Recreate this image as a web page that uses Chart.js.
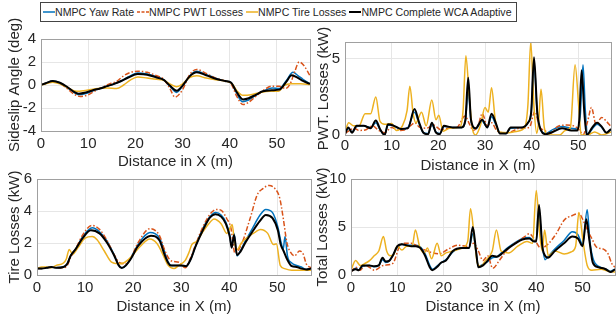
<!DOCTYPE html>
<html>
<head>
<meta charset="utf-8">
<script src="https://cdn.jsdelivr.net/npm/chart.js@4.4.1/dist/chart.umd.min.js"></script>
<style>
  body { margin: 0; background: #fff; width: 616px; height: 320px; position: relative; overflow: hidden; }
  canvas { position: absolute; }
  #legend {
    position: absolute; left: 40px; top: 2px; width: 473px; height: 18px;
    border: 1px solid #444; background: #fff; z-index: 2;
    display: flex; align-items: center; padding-left: 2px;
    font: 10.6px 'Liberation Sans', Arial, sans-serif; color: #262626; white-space: nowrap;
  }
  #legend .item { display: flex; align-items: center; margin-right: 3px; }
</style>
</head>
<body>
<div id="legend"></div>
<canvas id="slip" width="312" height="175" style="left:0px;top:0px"></canvas>
<canvas id="pwt" width="304" height="150" style="left:312px;top:25px"></canvas>
<canvas id="tire" width="312" height="155" style="left:0px;top:165px"></canvas>
<canvas id="total" width="304" height="155" style="left:312px;top:165px"></canvas>
<script>
'use strict'
// four controllers, same order everywhere
const seriesNames = ['NMPC Yaw Rate', 'NMPC PWT Losses', 'NMPC Tire Losses', 'NMPC Complete WCA Adaptive'];
const seriesColors = ['#0072BD', '#D95319', '#EDB120', '#000000'];
const xLabel = 'Distance in X (m)';
const xMax = 57;

// sideslip angle (deg) , points are [x in m, value]
const slipYaw = [[0,0],[1,0.15],[2.5,0.35],[4,0.2],[5.5,-0.2],[7,-0.65],[8,-0.85],[9.5,-0.75],[11,-0.5],[12.5,-0.3],[14,-0.1],[15.5,0.1],[17,0.35],[18.5,0.7],[20.5,1.05],[22.5,0.95],[24.5,0.7],[26,0.45],[27.3,-0.1],[28.7,-0.65],[30,-0.1],[31.5,0.8],[33,1.2],[35,0.9],[37,0.6],[39,0.35],[40.3,0.2],[41.3,-0.6],[42.7,-1.45],[44,-1.3],[45.5,-0.9],[47,-0.55],[49,-0.25],[50.5,-0.3],[52,0.4],[53.4,1.1],[54.5,0.8],[55.5,0.5],[57,0.1]];
const slipPwt = [[0,0],[1,0.15],[2.5,0.3],[4,0.15],[5.5,-0.3],[7,-0.8],[8.3,-1.0],[10,-0.85],[11.5,-0.5],[13,-0.2],[14.5,0.1],[16,0.3],[17.5,0.8],[19,1.1],[20.5,1.2],[22.5,1.1],[24.5,0.8],[26,0.5],[27.3,-0.3],[28.4,-1.05],[30,-0.4],[31.5,0.9],[33,1.35],[35,1.0],[37,0.6],[39,0.35],[40.3,0.1],[41.5,-1.0],[42.8,-1.7],[44,-1.5],[45.5,-1.0],[47,-0.5],[49,-0.1],[50.5,-0.1],[51.8,-0.3],[52.8,0.1],[53.8,1.2],[54.7,2.0],[55.7,1.7],[57,0.8]];
const slipTire = [[0,0],[1,0.1],[2.5,0.25],[4,0.1],[5.5,-0.2],[7.5,-0.55],[9,-0.5],[10.5,-0.4],[12,-0.3],[14,-0.25],[16,-0.3],[17.5,0],[19,0.45],[20.5,0.7],[22.5,0.6],[24.5,0.5],[26,0.4],[27.5,0.05],[28.7,-0.15],[30,0.1],[31.5,0.65],[33,0.8],[35,0.6],[37,0.45],[39.5,0.3],[40.5,0.1],[41.5,-0.5],[42.8,-0.9],[44.5,-0.85],[46.5,-0.65],[48.5,-0.55],[50.3,-0.55],[51.5,-0.05],[53,0.1],[55,0.1],[57,0.05]];
const slipWca = [[0,0],[1,0.15],[2.5,0.35],[4,0.2],[5.5,-0.15],[7,-0.6],[8,-0.75],[9.5,-0.65],[11,-0.45],[12.5,-0.3],[14,-0.1],[15.5,0.1],[17,0.35],[18.5,0.65],[20.5,0.95],[22.5,0.9],[24.5,0.65],[26,0.45],[27.3,-0.05],[28.8,-0.5],[30,-0.05],[31.5,0.75],[33,1.1],[35,0.85],[37,0.55],[39,0.35],[40.3,0.2],[41.3,-0.5],[42.8,-1.25],[44,-1.15],[45.5,-0.85],[47,-0.55],[49,-0.45],[50.5,-0.4],[52,0.3],[53.1,0.85],[54.5,0.6],[55.5,0.35],[57,0.1]];

// powertrain losses (kW)
const pwtYaw = [[0,0.1],[0.7,0.45],[1.5,0.2],[2.5,0.55],[4,0.6],[5.5,0.5],[6.6,0.8],[7.5,0.35],[8.5,0.05],[9.2,0.65],[10.5,0.6],[12,0.35],[13.5,0.5],[14.9,1.5],[15.8,0.8],[16.8,0.15],[17.8,0.1],[18.6,0.65],[19.5,0.2],[20.3,0.1],[21.2,0.55],[23,0.5],[25,0.5],[25.8,0.9],[26.4,3.0],[27,0.9],[28,0.4],[29.4,0.9],[30.5,0.5],[31.4,1.2],[32.3,0.7],[33.2,0.15],[34.5,0.1],[35.5,0.45],[38,0.5],[39.2,0.8],[39.9,1.5],[40.5,4.8],[41.2,1.4],[42,0.3],[43,0.1],[44.5,0.35],[46.5,0.55],[48.5,0.45],[49.8,0.4],[50.4,1.2],[51,4.6],[51.5,1.6],[52,0.05],[53,0.4],[54,0.7],[55,0.5],[56,0.15],[57,0.35]];
const pwtPwt = [[0,0.1],[1,0.3],[2,0.45],[3,0.3],[4.5,0.35],[6,0.6],[7,0.35],[8.5,0.15],[10,0.5],[11.5,0.3],[13,0.35],[14,0.6],[15,0.8],[16,0.5],[17.5,0.45],[19,0.65],[20.5,0.35],[22,0.45],[24,0.5],[25.7,1.25],[26.7,0.7],[27.5,0.3],[28.5,0.6],[29.4,1.4],[30.5,0.6],[31.4,0.8],[32.5,0.3],[34,0.15],[35.5,0.2],[37.5,0.45],[39.5,0.5],[40.7,1.55],[41.6,0.6],[43,0.25],[44,0.1],[45.5,0.55],[47.5,0.65],[49,0.6],[50.3,0.3],[51,0],[52,0.9],[52.8,1.8],[53.8,0.7],[55,1.15],[56,0.9],[57,0.55]];
const pwtTire = [[0,0.2],[0.8,0.8],[1.8,0.6],[3,0.6],[4.3,1.4],[5.5,1.4],[6.6,2.5],[7.5,0.9],[8.5,0.7],[10,0.75],[11,0.3],[12.3,0.6],[13.3,1.6],[13.9,3.2],[14.6,1.4],[15.2,0.8],[16.4,1.5],[17.4,0.6],[18.6,2.3],[19.5,1.0],[20.1,1.3],[21,0.25],[22.5,0.45],[24.6,0.5],[25.3,1.6],[25.9,5.2],[26.6,2.6],[27.3,0.4],[28,0],[29,0.6],[30,1.8],[30.7,1.5],[31.4,3.1],[32.2,1.0],[33,0.2],[35,0.15],[37,0.25],[38.5,0.5],[39.2,2.0],[39.8,6.1],[40.5,1.8],[41.1,0.1],[41.5,0.9],[42,3.0],[42.7,0.5],[43.5,0],[46,0],[47.2,0.3],[48.3,0.5],[49.3,4.6],[50.1,1.8],[50.6,0],[52,0],[53.5,0.2],[55,0],[57,0.2]];
const pwtWca = [[0,0.05],[0.7,0.5],[1.5,0.15],[2.5,0.6],[4,0.6],[5.5,0.45],[6.6,0.95],[7.5,0.4],[8.5,0],[9.2,0.7],[10.5,0.6],[12,0.4],[13.5,0.45],[14.9,1.7],[15.8,0.9],[16.8,0.15],[17.8,0.05],[18.6,0.8],[19.5,0.15],[20.3,0.05],[21.2,0.6],[23,0.5],[25,0.5],[25.8,1.0],[26.4,3.75],[27,1.0],[28,0.45],[29.4,1.0],[30.5,0.5],[31.4,1.4],[32.3,0.8],[33.2,0.1],[34.5,0.1],[35.5,0.5],[38,0.5],[39.2,0.8],[39.9,1.5],[40.5,5.1],[41.2,1.5],[42,0.3],[43,0.05],[44.5,0.2],[46.5,0.45],[48.5,0.3],[49.8,0.3],[50.2,1.0],[50.7,4.25],[51.3,1.4],[51.8,0],[53,0.5],[54,0.8],[55,0.55],[56,0.15],[57,0.4]];

// tire losses (kW)
const tireYaw = [[0,0.4],[1,0.4],[2,0.45],[3,0.5],[4,0.45],[5.5,0.5],[6.3,0.7],[7,1.2],[8,1.6],[9.5,2.4],[11.5,2.95],[13,2.7],[14.5,2.15],[16,1.3],[17,0.6],[17.8,0.45],[18.5,0.6],[19.5,1.05],[21,1.9],[23.5,2.65],[25.5,2.3],[26.5,1.5],[27.3,0.8],[28,0.6],[30,0.6],[31,0.55],[32,1.0],[33,1.8],[34.5,2.9],[36,3.65],[37.2,3.9],[38.3,3.75],[39.3,3.3],[40.1,2.5],[40.5,1.8],[41,2.6],[41.6,1.2],[42.3,1.5],[43.3,2.1],[44.8,2.9],[46.3,3.7],[47.6,4.1],[49,3.9],[50.1,3.0],[50.8,2.0],[51.2,1.6],[51.6,2.4],[52.1,1.2],[53,0.75],[54,0.6],[55,0.5],[56,0.35],[57,0.4]];
const tirePwt = [[0,0.4],[1,0.4],[2,0.45],[3,0.5],[4,0.45],[5.5,0.45],[6.3,0.6],[7,1.1],[8,1.6],[9.5,2.5],[11.4,3.1],[13,2.85],[14.5,2.2],[16,1.3],[17.3,0.75],[18.5,0.7],[19.5,1.05],[21,2.0],[23.5,2.9],[25.5,2.45],[26.5,1.6],[27.5,1.0],[28.3,0.85],[29.5,0.8],[30.8,0.45],[32,1.1],[33,1.9],[34.5,3.0],[36,3.8],[37.4,4.1],[38.5,4.0],[39.5,3.5],[40.3,3.0],[41.2,1.35],[42.5,1.9],[44.4,3.6],[45.8,5.0],[47,5.4],[48.3,5.6],[49.5,5.4],[50.5,4.8],[51.2,3.6],[52,2.0],[52.6,1.5],[53.6,1.2],[54.6,1.5],[55.4,1.3],[56,0.7],[57,0.45]];
const tireTire = [[0,0.4],[1,0.5],[2,0.5],[3,0.45],[4,0.6],[5.5,0.75],[6.1,1.0],[6.7,1.6],[7.4,1.3],[8.5,1.7],[10,2.3],[11.5,2.4],[12.5,2.2],[14,1.5],[15.5,0.8],[16.8,0.7],[18,0.75],[19.5,1.1],[21.5,1.8],[23.5,2.25],[25,1.95],[26,1.4],[27.3,0.6],[28.5,0.4],[29.5,0.6],[30.8,0.9],[31.6,1.4],[32.2,1.9],[33.2,2.1],[34.5,2.7],[36,3.3],[36.8,3.5],[38.3,3.2],[39.5,2.6],[40.1,2.9],[40.6,3.15],[41.1,2.0],[41.7,1.6],[42.5,2.0],[44,2.4],[45.5,2.7],[46.5,2.85],[48,2.6],[49.2,1.9],[49.8,1.95],[50.6,0.6],[51.5,0.4],[53,0.3],[55,0.3],[57,0.3]];
const tireWca = [[0,0.4],[1,0.4],[2,0.45],[3,0.5],[4,0.45],[5.5,0.5],[6.3,0.7],[7,1.2],[8,1.6],[9.5,2.3],[11.2,2.8],[13,2.6],[14.5,2.05],[16,1.25],[17,0.6],[17.6,0.43],[18.5,0.6],[19.5,1.0],[21,1.8],[23.7,2.45],[25.5,2.15],[26.5,1.3],[27.3,0.75],[27.8,0.6],[30,0.6],[31,0.55],[32,1.0],[33,1.8],[34.5,2.8],[36,3.6],[37.1,3.8],[38.3,3.65],[39.3,3.2],[40.1,2.4],[40.5,1.7],[41,2.5],[41.6,1.25],[42.3,1.45],[43.3,2.0],[44.8,2.7],[46.3,3.35],[47.6,3.75],[49,3.55],[50.1,2.8],[50.7,1.9],[51.3,1.5],[52,1.0],[53,0.55],[54,0.5],[55,0.4],[56,0.35],[57,0.4]];

// total losses (kW)
const totYaw = [[0,0.4],[1,0.7],[1.7,0.5],[2.5,0.9],[4,1.0],[5,0.85],[6,1.0],[6.8,1.6],[7.5,1.3],[8.3,1.5],[9,2.0],[10,2.9],[11,3.2],[12,3.1],[13,3.1],[14,3.1],[15,2.9],[16,2.2],[17,1.0],[17.6,0.6],[18.5,0.9],[19.5,1.3],[20.5,1.6],[22,2.4],[24,2.8],[25.5,2.8],[26.3,4.3],[27,2.4],[27.5,0.9],[28.5,1.1],[29.5,1.4],[30.5,1.8],[31.5,1.9],[32.5,2.3],[34,2.9],[35.5,3.4],[37,3.8],[38.5,3.9],[39.5,3.6],[40,3.6],[40.5,6.8],[41.3,3.1],[41.9,1.6],[42.5,1.9],[44,2.7],[46,3.6],[47.8,4.5],[49,4.2],[50,3.2],[51,6.8],[51.6,3.4],[52.4,1.5],[53.5,0.9],[55,0.6],[56,0.4],[57,0.6]];
const totPwt = [[0,0.3],[1,0.8],[2,0.5],[3,1.0],[4,0.8],[5,0.5],[7,1.0],[9,1.2],[10.5,3.0],[11.5,3.3],[13,3.3],[15,2.8],[17,2.4],[19,2.2],[21,2.7],[23,3.1],[25,3.0],[26.5,3.3],[27.5,2.5],[28.5,1.5],[29.5,2.0],[30.6,0.7],[32,1.5],[34,2.8],[36,3.5],[37.5,4.0],[38.5,4.3],[39.5,3.8],[41,2.8],[42.5,3.2],[44.3,4.3],[46,5.7],[47.8,6.2],[49.2,6.4],[50.3,5.5],[51.2,4.5],[52,3.8],[53,2.9],[54.5,2.7],[55.5,2.2],[56.3,1.2],[57,0.8]];
const totTire = [[0,0.5],[1,1.5],[2,1.0],[3,1.2],[4,1.5],[5,2.0],[6,2.5],[7,4.0],[7.7,2.5],[8.5,2.0],[9.2,2.1],[10,3.0],[11,2.6],[12,3.0],[13.2,3.0],[13.9,4.7],[14.8,3.0],[15.8,2.3],[16.5,2.8],[17.4,1.7],[18.6,3.3],[19.5,2.0],[20.5,2.3],[22,2.5],[24,2.8],[25.2,3.5],[25.8,6.9],[26.6,4.0],[27.3,1.2],[28,0.9],[29,1.5],[30.5,2.5],[31.4,4.7],[32.4,2.5],[34,2.3],[36,3.0],[38,3.5],[39.2,3.3],[40,8.8],[40.8,4.0],[41.3,2.5],[41.8,4.7],[42.6,2.0],[44,2.5],[46,2.2],[47.5,2.4],[48.5,3.0],[49.2,6.5],[50.1,3.5],[51,1.0],[52,0.5],[54,0.6],[55.5,0.4],[57,0.3]];
const totWca = [[0,0.4],[1,0.6],[1.7,0.5],[2.5,1.0],[4,1.0],[5,0.9],[6,1.0],[6.8,1.8],[7.5,1.4],[8.3,1.5],[9,2.0],[10,3.0],[11,3.2],[12,3.1],[13,3.0],[14,3.0],[15,2.8],[16,2.0],[17,0.8],[17.5,0.5],[18.5,0.8],[19.5,1.3],[20.5,1.5],[22,2.5],[24,2.8],[25.5,2.8],[26.3,5.0],[27,2.5],[27.5,0.8],[28.5,1.0],[29.5,1.5],[30.5,2.0],[31.5,1.9],[32.5,2.2],[34,2.8],[35.5,3.3],[37,3.7],[38.5,3.8],[39.5,3.5],[40,3.5],[40.6,7.3],[41.3,3.0],[41.9,2.0],[42.5,1.8],[44,2.5],[46,3.3],[47.8,4.0],[49,3.8],[50,3.0],[50.8,5.8],[51.5,3.5],[52.2,1.3],[53.5,0.8],[55,0.6],[56,0.3],[57,0.6]];

// style stuff , not data
const lineWidths = [1.5, 1.5, 1.5, 2];
const lineDashes = [[], [5, 2, 1.5, 2], [], []];
const drawOrder = [3, 2, 1, 0]; // black on top
const fontFam = "'Liberation Sans', Arial, Helvetica, sans-serif";
const textColor = '#262626';

// MATLAB style box around the axes
const frameBox = {
    id: 'frameBox',
    afterDatasetsDraw(chart) {
        let a = chart.chartArea;
        let ctx = chart.ctx;
        ctx.save();
        ctx.strokeStyle = '#a0a0a0';
        ctx.lineWidth = 1;
        ctx.strokeRect(Math.round(a.left) + 0.5, Math.round(a.top) + 0.5, Math.round(a.right - a.left), Math.round(a.bottom - a.top));
        ctx.restore();
    }
};

// legend on top
function buildLegend() {
    let legend = document.getElementById('legend');
    for (let i = 0; i < seriesNames.length; i++) {
        let item = document.createElement('span');
        item.className = 'item';
        let dash = lineDashes[i].length ? 'stroke-dasharray="3,1.5"' : '';
        item.innerHTML = '<svg width="12" height="6"><line x1="0" y1="3" x2="12" y2="3" stroke="' + seriesColors[i] + '" stroke-width="' + lineWidths[i] + '" ' + dash + '/></svg>';
        item.appendChild(document.createTextNode(seriesNames[i]));
        legend.appendChild(item);
    }
}
buildLegend();

// lay: sizes of the axis boxes so the plot area lands where it is in the picture
function drawPlot(canvasId, lists, yTitle, yMin, yMax, yStep, lay) {
    let ctx = document.getElementById(canvasId).getContext('2d');
    let sets = [];
    for (let i = 0; i < lists.length; i++) {
        sets.push({
            label: seriesNames[i],
            data: lists[i].map(p => ({ x: p[0], y: p[1] })),
            borderColor: seriesColors[i],
            borderWidth: lineWidths[i],
            borderDash: lineDashes[i],
            pointRadius: 0,
            fill: false,
            cubicInterpolationMode: 'monotone',
            order: drawOrder[i]
        });
    }
    new Chart(ctx, {
        type: 'line',
        data: { datasets: sets },
        options: {
            responsive: false,
            animation: false,
            layout: { padding: { top: lay.padTop, right: lay.padRight, left: 0, bottom: 0 } },
            plugins: { legend: { display: false }, tooltip: { enabled: false } },
            scales: {
                x: {
                    type: 'linear', min: 0, max: xMax,
                    ticks: { stepSize: 10, includeBounds: false, autoSkip: false, maxRotation: 0, padding: lay.xTickPad, color: textColor, font: { family: fontFam, size: 15 } },
                    grid: { color: '#e6e6e6', drawTicks: false },
                    border: { display: false },
                    title: { display: true, text: xLabel, color: textColor, font: { family: fontFam, size: 15 }, padding: { top: 0, bottom: lay.xTitlePad } },
                    afterFit: s => { s.height = lay.xAxisH; }
                },
                y: {
                    min: yMin, max: yMax,
                    ticks: { stepSize: yStep, includeBounds: false, padding: 5, color: textColor, font: { family: fontFam, size: 15 } },
                    grid: { color: '#e6e6e6', drawTicks: false },
                    border: { display: false },
                    title: { display: true, text: yTitle, color: textColor, font: { family: fontFam, size: 15 }, padding: { top: lay.yTitlePad, bottom: 0 } },
                    afterFit: s => { s.width = lay.yAxisW; }
                }
            }
        },
        plugins: [frameBox]
    });
}

drawPlot('slip', [slipYaw, slipPwt, slipTire, slipWca], 'Sideslip Angle (deg)', -4, 4, 2,
    { padTop: 39, padRight: 2, yAxisW: 41, xAxisH: 44, xTickPad: 4, xTitlePad: 4, yTitlePad: 6 });
drawPlot('pwt', [pwtYaw, pwtPwt, pwtTire, pwtWca], 'PWT. Losses (kW)', 0, 6.1, 5,
    { padTop: 17, padRight: 5, yAxisW: 33, xAxisH: 40, xTickPad: 2, xTitlePad: 0, yTitlePad: 3 });
drawPlot('tire', [tireYaw, tirePwt, tireTire, tireWca], 'Tire Losses (kW)', 0, 6, 2,
    { padTop: 11, padRight: 1, yAxisW: 37, xAxisH: 45, xTickPad: 4, xTitlePad: 4, yTitlePad: 6 });
drawPlot('total', [totYaw, totPwt, totTire, totWca], 'Total Losses (kW)', 0, 10, 5,
    { padTop: 12, padRight: 1, yAxisW: 39, xAxisH: 45, xTickPad: 4, xTitlePad: 4, yTitlePad: 2 });
</script>
</body>
</html>
